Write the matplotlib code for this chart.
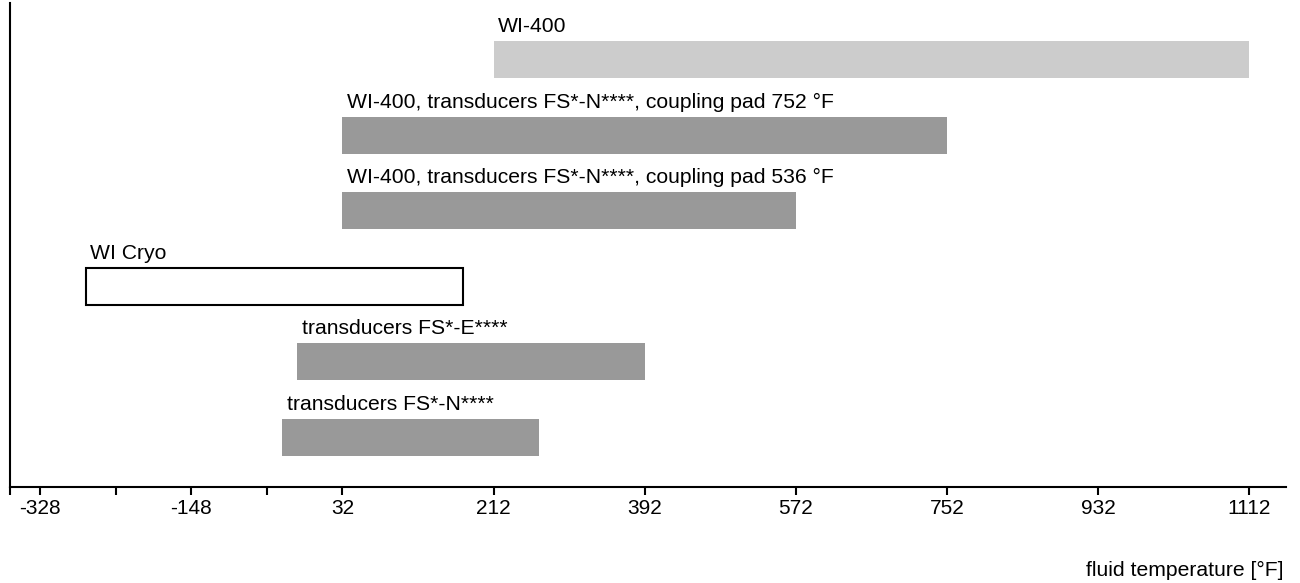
import matplotlib.pyplot as plt

plt.rcParams['font.family'] = ['Liberation Sans', 'DejaVu Sans']

# Rangos de temperatura (°F), de abajo hacia arriba
etiquetas = [
    "transducers FS*-N****",
    "transducers FS*-E****",
    "WI Cryo",
    "WI-400, transducers FS*-N****, coupling pad 536 °F",
    "WI-400, transducers FS*-N****, coupling pad 752 °F",
    "WI-400",
]
t_min = [-40, -22, -274, 32, 32, 212]
t_max = [266, 392, 176, 572, 752, 1112]
rellenos = ['#999999', '#999999', 'white', '#999999', '#999999', '#cccccc']
bordes = ['none', 'none', 'black', 'none', 'none', 'none']

ticks_con_texto = [-328, -148, 32, 212, 392, 572, 752, 932, 1112]
ticks_sin_texto = [-364, -238, -58]

fig = plt.figure(figsize=(13, 5.83), dpi=100)
ax = fig.add_axes([10 / 1300, 1 - 487 / 583, 1276 / 1300, 484 / 583])

for i, (a, b) in enumerate(zip(t_min, t_max)):
    ax.barh(i, b - a, left=a, height=0.49, color=rellenos[i],
            edgecolor=bordes[i], linewidth=1.5)
    ax.annotate(etiquetas[i], xy=(a, i + 0.245), xytext=(3.5, 6.5),
                textcoords='offset points', fontsize=15.2, va='baseline', ha='left')

ax.set_xlim(-364, 1156)
ax.set_ylim(-0.66, 5.75)
ax.set_yticks([])

todos = sorted(ticks_con_texto + ticks_sin_texto)
ax.set_xticks(todos)
ax.set_xticklabels([str(t) if t in ticks_con_texto else '' for t in todos])
ax.tick_params(axis='x', length=5.5, width=1.5, labelsize=15, pad=3)

for lado in ['top', 'right']:
    ax.spines[lado].set_visible(False)
for lado in ['left', 'bottom']:
    ax.spines[lado].set_linewidth(1.5)

fig.text(1284 / 1300, 1 - 570 / 583, 'fluid temperature [°F]', ha='right',
         va='center', fontsize=15.2)

plt.savefig('out.png', dpi=100)
